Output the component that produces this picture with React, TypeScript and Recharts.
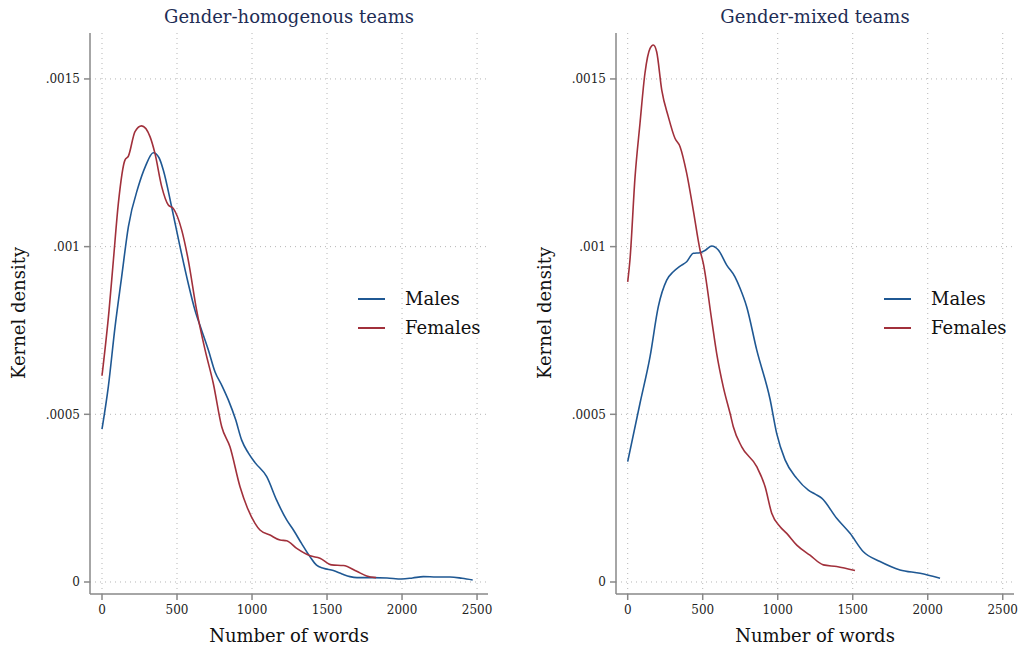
import { LineChart, Line, XAxis, YAxis, CartesianGrid } from 'recharts';

// x = number of words, y = kernel density (in units of 1e-4)
const homMalesX = [0, 42, 87, 131, 176, 242, 290, 342, 380, 409, 464, 520, 575, 620, 664, 710, 753, 800, 842, 890, 931, 975, 1020, 1098, 1164, 1231, 1276, 1330, 1387, 1430, 1476, 1542, 1600, 1653, 1700, 1800, 1900, 1998, 2070, 2142, 2230, 2320, 2400, 2471];
const homMalesY = [4.56, 5.82, 7.61, 9.1, 10.6, 11.79, 12.4, 12.8, 12.65, 12.28, 11.19, 10.0, 8.9, 8.1, 7.51, 6.9, 6.27, 5.85, 5.43, 4.85, 4.23, 3.85, 3.56, 3.14, 2.44, 1.85, 1.55, 1.15, 0.75, 0.5, 0.41, 0.34, 0.24, 0.16, 0.13, 0.13, 0.12, 0.09, 0.12, 0.16, 0.15, 0.15, 0.11, 0.06];

const homFemalesX = [0, 47, 76, 109, 153, 176, 220, 264, 320, 353, 398, 442, 475, 531, 575, 631, 687, 742, 798, 853, 920, 970, 1020, 1053, 1120, 1187, 1231, 1298, 1387, 1453, 1531, 1609, 1698, 1764, 1827];
const homFemalesY = [6.15, 8.1, 9.6, 11.29, 12.58, 12.7, 13.43, 13.6, 13.28, 12.78, 11.79, 11.24, 11.14, 10.5, 9.6, 8.1, 6.92, 5.92, 4.63, 4.03, 2.84, 2.2, 1.75, 1.55, 1.4, 1.25, 1.23, 1.0, 0.78, 0.71, 0.51, 0.49, 0.32, 0.18, 0.13];

const mixMalesX = [0, 82, 149, 204, 260, 304, 350, 393, 437, 482, 520, 560, 604, 660, 715, 749, 793, 860, 949, 993, 1049, 1127, 1204, 1250, 1293, 1393, 1482, 1571, 1682, 1815, 1949, 2082];
const mixMalesY = [3.59, 5.33, 6.72, 8.21, 9.0, 9.25, 9.42, 9.55, 9.8, 9.82, 9.9, 10.02, 9.9, 9.45, 9.1, 8.76, 8.21, 6.92, 5.45, 4.43, 3.64, 3.09, 2.74, 2.62, 2.5, 1.9, 1.45, 0.9, 0.61, 0.36, 0.26, 0.11];

const mixFemalesX = [0, 15, 49, 82, 115, 149, 171, 193, 227, 271, 315, 349, 393, 437, 482, 504, 560, 593, 637, 684, 704, 760, 860, 916, 960, 1016, 1060, 1127, 1215, 1304, 1393, 1515];
const mixFemalesY = [8.95, 9.6, 12.08, 13.68, 15.17, 15.91, 16.01, 15.81, 14.67, 13.87, 13.23, 12.98, 12.19, 11.09, 9.9, 9.5, 7.81, 6.82, 5.82, 5.0, 4.63, 4.03, 3.44, 2.84, 2.05, 1.65, 1.45, 1.1, 0.8, 0.51, 0.46, 0.34];

const xTicks = [0, 500, 1000, 1500, 2000, 2500];
const yTicks = [0, 0.0005, 0.001, 0.0015];
const yTickLabels = ['0', '.0005', '.001', '.0015'];
const seriesNames = ['Males', 'Females'];

const BLUE = '#1f5893';
const RED = '#a1303b';
const SERIF = '"DejaVu Serif", "Liberation Serif", serif';

const toPoints = (xs: number[], ys: number[]) => xs.map((x, i) => ({ words: x, density: ys[i] / 10000 }));

function Panel({
  width,
  yAxisWidth,
  right,
  xDomain,
  males,
  females,
}: {
  width: number;
  yAxisWidth: number;
  right: number;
  xDomain: [number, number];
  males: Array<{ words: number; density: number }>;
  females: Array<{ words: number; density: number }>;
}) {
  const tick = { fontFamily: SERIF, fontSize: 12, fill: '#222' };
  return (
    <LineChart width={width} height={651} margin={{ top: 33, right, bottom: 0, left: 0 }}>
      <CartesianGrid stroke="#b5b5b5" strokeDasharray="1 4" horizontalValues={yTicks} verticalValues={xTicks} />
      <XAxis
        type="number"
        dataKey="words"
        domain={xDomain}
        ticks={xTicks}
        allowDataOverflow
        height={57}
        stroke="#888"
        strokeWidth={1.5}
        tickSize={6}
        tickMargin={5}
        tick={tick}
      />
      <YAxis
        type="number"
        dataKey="density"
        domain={[-0.0000358, 0.001637]}
        ticks={yTicks}
        allowDataOverflow
        width={yAxisWidth}
        stroke="#888"
        strokeWidth={1.5}
        tickSize={6}
        tickMargin={4}
        tick={tick}
        tickFormatter={(v: number) => yTickLabels[yTicks.indexOf(v)] ?? String(v)}
      />
      <Line data={males} dataKey="density" name={seriesNames[0]} type="monotone" stroke={BLUE} strokeWidth={1.6} dot={false} isAnimationActive={false} />
      <Line data={females} dataKey="density" name={seriesNames[1]} type="monotone" stroke={RED} strokeWidth={1.6} dot={false} isAnimationActive={false} />
    </LineChart>
  );
}

function LegendItems({ x, y }: { x: number; y: number }) {
  const colors = [BLUE, RED];
  return (
    <g>
      {seriesNames.map((name, i) => (
        <g key={name}>
          <line x1={x} x2={x + 27} y1={y + i * 29} y2={y + i * 29} stroke={colors[i]} strokeWidth={2} />
          <text x={x + 47} y={y + i * 29 + 6} fill="#111" fontFamily={SERIF} fontSize={18}>
            {name}
          </text>
        </g>
      ))}
    </g>
  );
}

export default function App() {
  const titleColor = '#1e2d55';
  return (
    <div style={{ position: 'fixed', left: 0, top: 0, width: 1019, height: 651, background: '#fff' }}>
      <div style={{ position: 'absolute', left: 0, top: 0 }}>
        <Panel
          width={510}
          yAxisWidth={90}
          right={22}
          xDomain={[-80, 2573]}
          males={toPoints(homMalesX, homMalesY)}
          females={toPoints(homFemalesX, homFemalesY)}
        />
      </div>
      <div style={{ position: 'absolute', left: 510, top: 0 }}>
        <Panel
          width={509}
          yAxisWidth={106}
          right={5}
          xDomain={[-78, 2575]}
          males={toPoints(mixMalesX, mixMalesY)}
          females={toPoints(mixFemalesX, mixFemalesY)}
        />
      </div>
      <svg width={1019} height={651} style={{ position: 'absolute', left: 0, top: 0, pointerEvents: 'none' }}>
        <text x={289} y={23} fill={titleColor} fontFamily={SERIF} fontSize={18} textAnchor="middle">
          Gender-homogenous teams
        </text>
        <text x={815} y={23} fill={titleColor} fontFamily={SERIF} fontSize={18} textAnchor="middle">
          Gender-mixed teams
        </text>
        <text x={289} y={642} fill="#111" fontFamily={SERIF} fontSize={18} textAnchor="middle">
          Number of words
        </text>
        <text x={815} y={642} fill="#111" fontFamily={SERIF} fontSize={18} textAnchor="middle">
          Number of words
        </text>
        <text transform="translate(25,313) rotate(-90)" fill="#111" fontFamily={SERIF} fontSize={18} textAnchor="middle">
          Kernel density
        </text>
        <text transform="translate(551,313) rotate(-90)" fill="#111" fontFamily={SERIF} fontSize={18} textAnchor="middle">
          Kernel density
        </text>
        <LegendItems x={358} y={299} />
        <LegendItems x={884} y={299} />
      </svg>
    </div>
  );
}
